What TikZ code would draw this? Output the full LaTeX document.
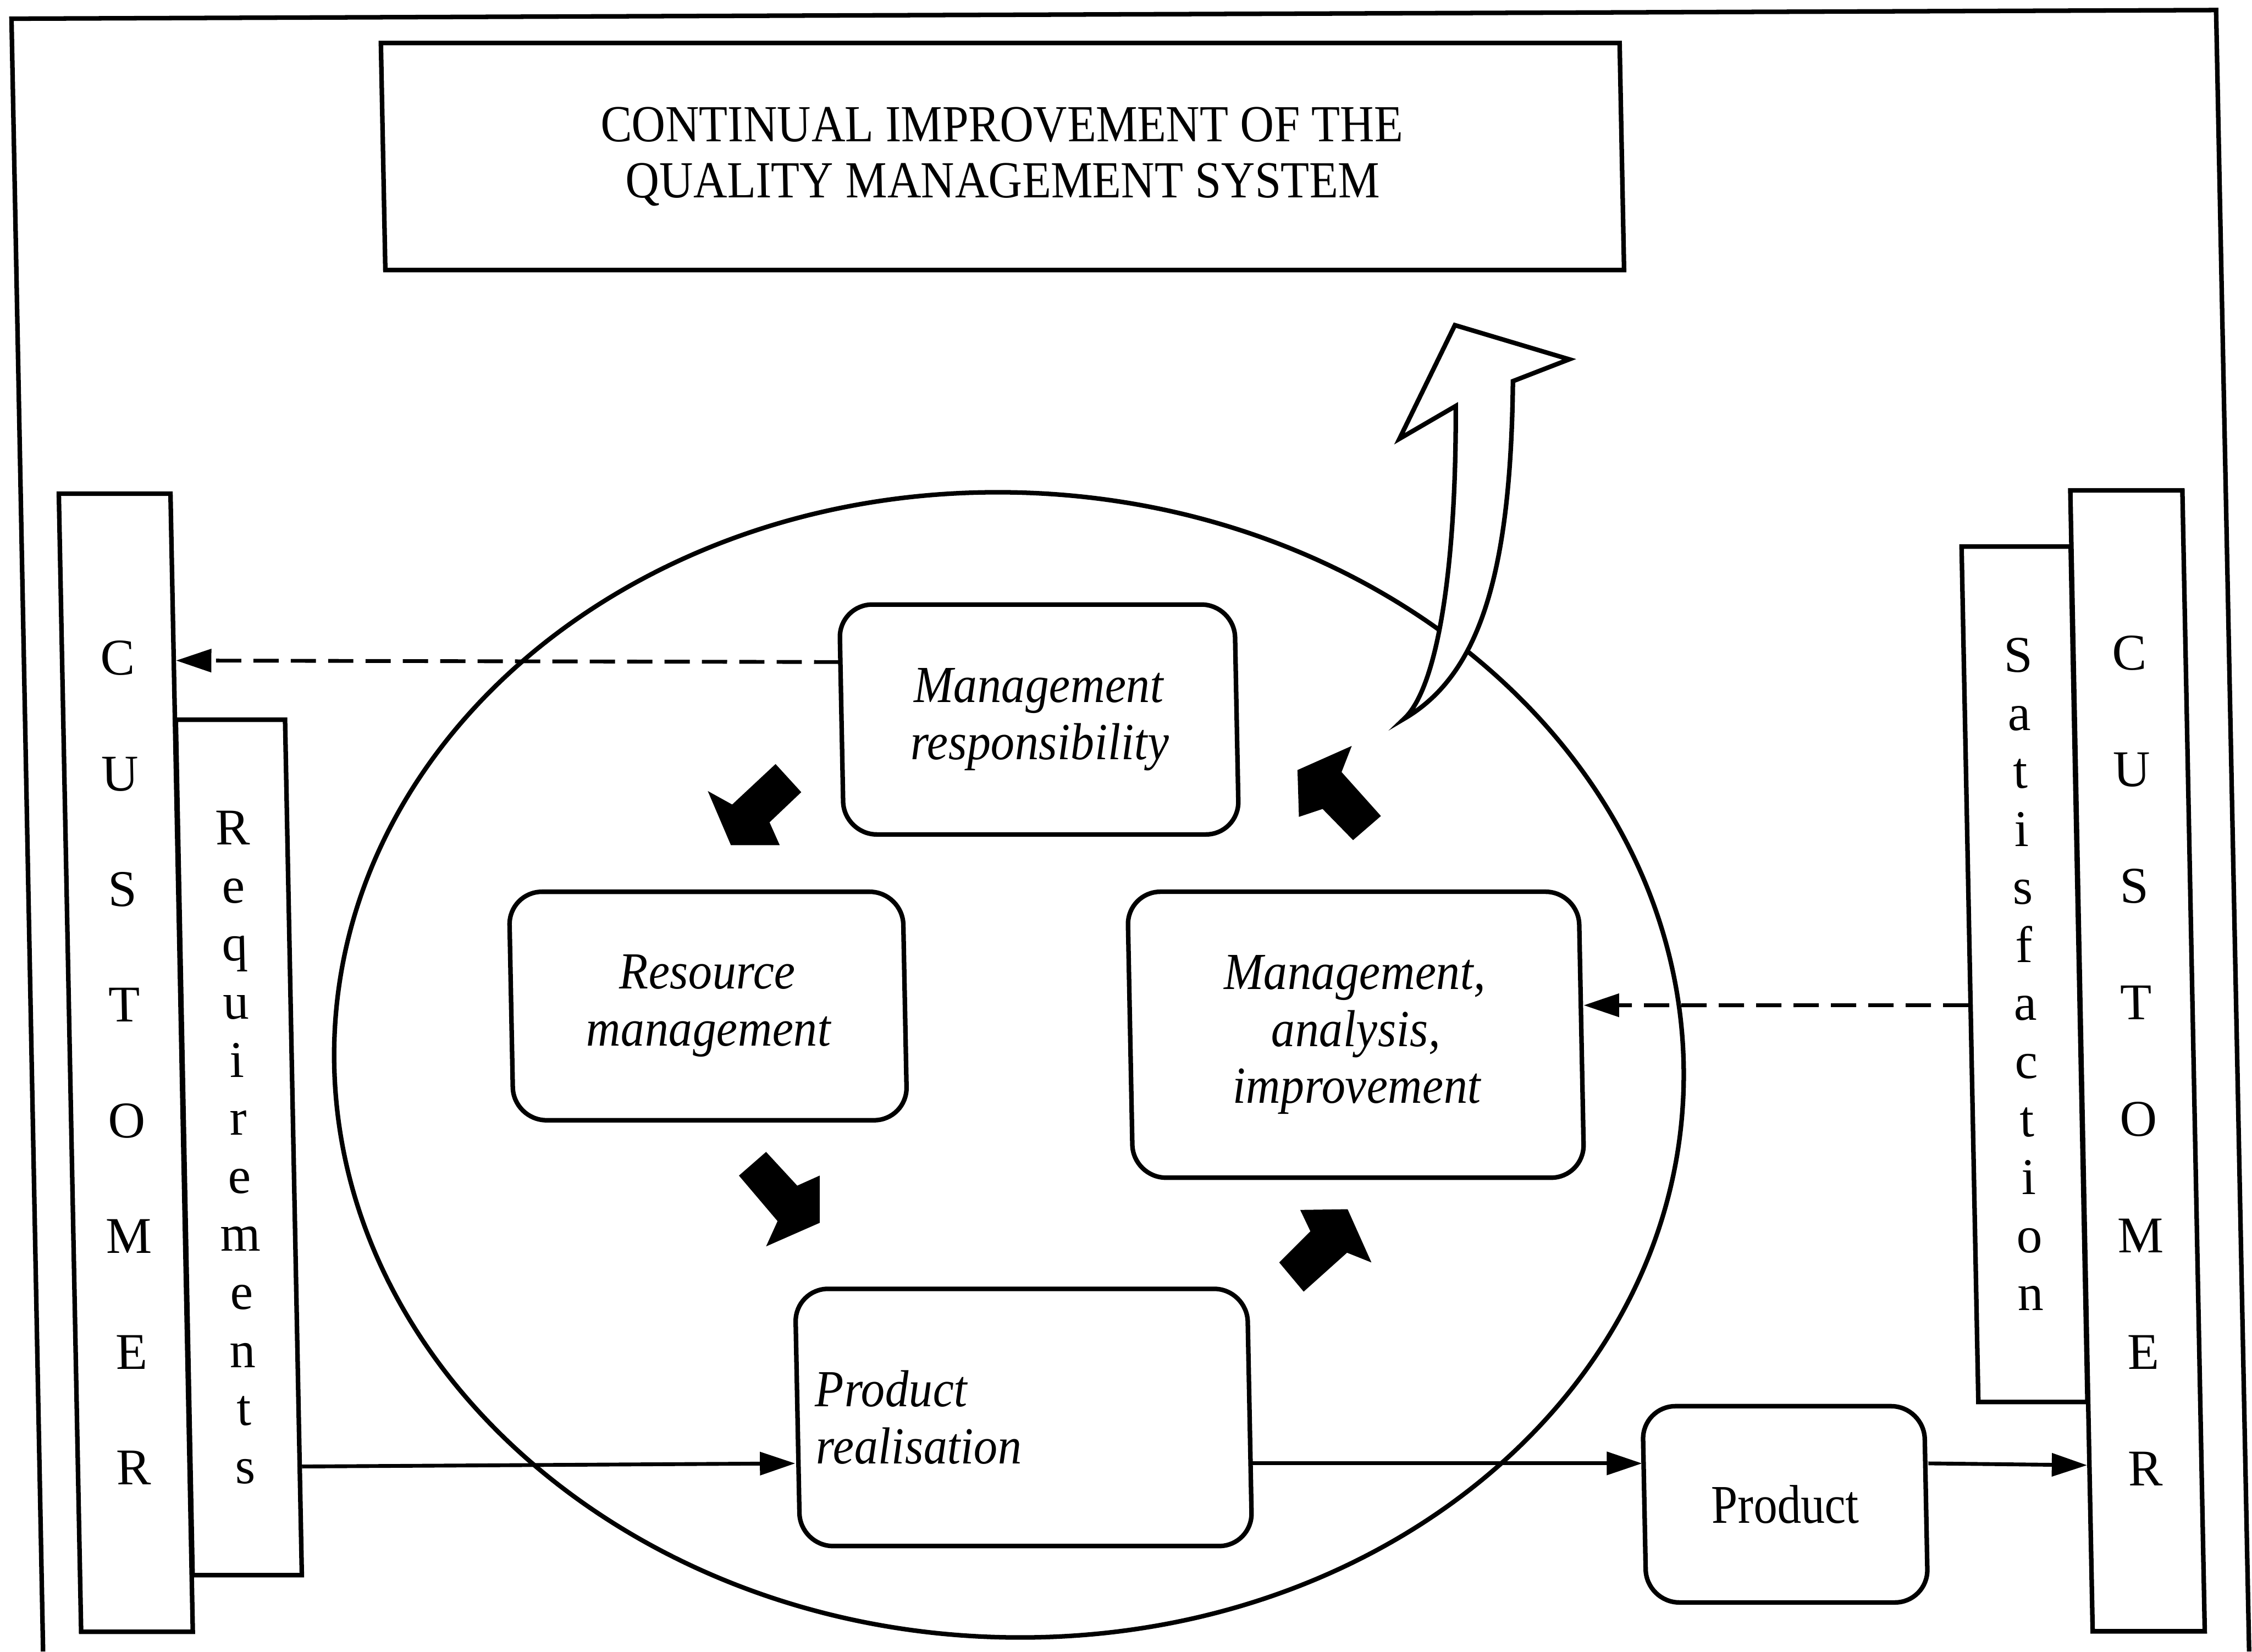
\documentclass[tikz,border=0pt]{standalone}
\usepackage{fontspec}
\setmainfont{Liberation Serif}
% narrower cuts of the serif face for the labels
\newfontfamily\titleserif[FakeStretch=0.9]{Liberation Serif}
\newfontfamily\labelserif[FakeStretch=0.92]{Liberation Serif}
\newfontfamily\productserif[FakeStretch=0.87]{Liberation Serif}
\usetikzlibrary{arrows.meta,calc}

\begin{document}
\begin{tikzpicture}[x=0.01cm, y=-0.01cm,
  titlebox/.style={draw, line width=0.9pt, fill=white, xslant=-0.0196, inner sep=0pt,
    align=center, minimum width=8.62cm, minimum height=1.58cm,
    font=\titleserif\fontsize{10.3pt}{11.1pt}\selectfont},
  stage/.style={draw, line width=0.9pt, rounded corners=0.23cm, fill=white,
    xslant=-0.0196, inner sep=0pt, align=center,
    font=\labelserif\fontsize{10.3pt}{11.3pt}\selectfont\itshape},
  column/.style={draw, line width=0.9pt, fill=white, xslant=-0.0196,
    inner sep=0pt, align=center},
  conn/.style={line width=0.75pt, -{Triangle[length=7pt,width=4.5pt]}},
  dashconn/.style={conn, dash pattern=on 5pt off 2.4pt},
  blockarrow/.style={fill=black},
  upturn/.style={draw, line width=0.9pt, fill=white, line join=miter}
]
\useasboundingbox (0,0) rectangle (1568,1150);

% outer frame (open at the bottom)
\draw[line width=0.9pt] (30,1150) -- (8,13) -- (1543,7) -- (1566,1150);

% title
\node[titlebox] (title) at (698,109)
  {CONTINUAL IMPROVEMENT OF THE\\QUALITY MANAGEMENT SYSTEM};

% the process ellipse
\draw[line width=0.9pt, shift={(702.5,741.5)}, xslant=-0.0196]
  (0,0) ellipse [x radius=4.695cm, y radius=3.985cm];

% customer columns
\node[column, minimum width=0.76cm, minimum height=5.953cm,
  font=\fontsize{10.2pt}{11.5pt}\selectfont] (req) at (166.3,799)
  {R\\e\\q\\u\\i\\r\\e\\m\\e\\n\\t\\s};
\node[column, minimum width=0.777cm, minimum height=7.92cm,
  font=\fontsize{10.2pt}{22.9pt}\selectfont] (custL) at (87.6,740)
  {C\\U\\S\\T\\O\\M\\E\\R};
\node[column, minimum width=0.759cm, minimum height=5.953cm,
  font=\fontsize{10.2pt}{11.49pt}\selectfont] (sat) at (1409.6,678.4)
  {S\\a\\t\\i\\s\\f\\a\\c\\t\\i\\o\\n};
\node[column, minimum width=0.78cm, minimum height=7.94cm,
  font=\fontsize{10.2pt}{23.07pt}\selectfont] (custR) at (1488.3,738.7)
  {C\\U\\S\\T\\O\\M\\E\\R};

% process boxes
\node[stage, minimum width=2.75cm, minimum height=1.6cm] (mr) at (723.5,501)
  {Management\\responsibility};
\node[stage, minimum width=2.74cm, minimum height=1.59cm] (rm) at (493,700.5)
  {Resource\\management};
\node[stage, minimum width=3.14cm, minimum height=1.99cm] (mai) at (944,720.5)
  {Management,\\analysis,\\improvement};
\node[stage, minimum width=3.146cm, minimum height=1.79cm, text width=2.896cm,
  inner xsep=0.125cm, align=left] (pr) at (712.7,987)
  {Product\\realisation};
\node[stage, minimum width=1.96cm, minimum height=1.366cm,
  font=\productserif\fontsize{10.8pt}{12pt}\selectfont] (prod) at (1243,1047.5) {Product};

% levels of the horizontal connectors
\coordinate (ydashL) at (0,461);
\coordinate (ydashR) at (0,700);
\coordinate (yflow) at (0,1019);

% connectors
\draw[dashconn] (mr.west |- ydashL) -- ($(custL.north east)!0.148!(custL.south east)$);
\draw[dashconn] ($(sat.north west)!0.536!(sat.south west)$) -- (mai.east |- ydashR);
\draw[conn] ($(req.north east)!0.871!(req.south east)$) -- (pr.west |- yflow);
\draw[conn] (pr.east |- yflow) -- (prod.west |- yflow);
\draw[conn] (prod.east |- yflow) -- ($(custR.north west)!0.853!(custR.south west)$);

% block arrows of the cycle
\fill[blockarrow] (540,532) -- (557.9,551.6) -- (535.8,572.6) -- (542.9,588.5)
  -- (508.9,588.5) -- (492.8,550.8) -- (509.8,560.2) -- cycle;
\fill[blockarrow] (514.5,818.6) -- (533.4,802.1) -- (555.1,825.6) -- (570.7,818.6)
  -- (570.7,851.5) -- (533.4,867.9) -- (541.4,850.3) -- cycle;
\fill[blockarrow] (905.3,842.5) -- (938.3,842.0) -- (954.9,879.1) -- (937.9,872.3)
  -- (907.7,899.4) -- (890.7,879.1) -- (912.4,857.4) -- cycle;
\fill[blockarrow] (903.4,536.2) -- (941.2,519.4) -- (934.1,537.6) -- (961.5,568.2)
  -- (942.1,585.0) -- (920.9,563.3) -- (904.4,568.8) -- cycle;

% curved improvement arrow leaving the ellipse
\draw[upturn] (1013,226.4) -- (1092.6,250.2) -- (1053.4,265.4)
  .. controls (1052,400) and (1030,470) .. (977.6,500.5)
  .. controls (1000,480) and (1014,400) .. (1013.6,282.7)
  -- (974.4,305.5) -- cycle;
\end{tikzpicture}
\end{document}
